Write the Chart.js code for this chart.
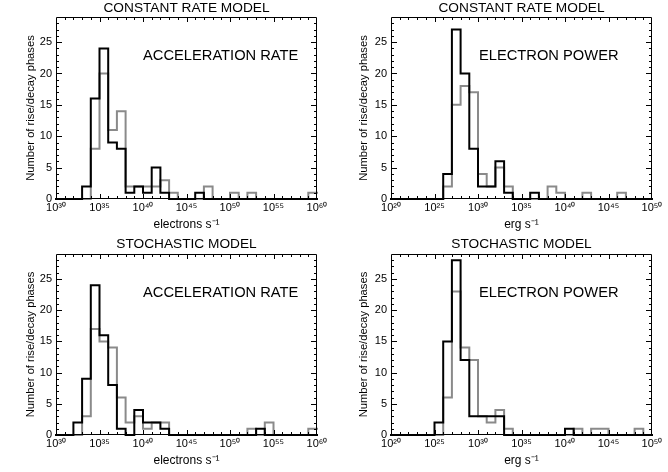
<!DOCTYPE html>
<html>
<head>
<meta charset="utf-8">
<script src="https://cdn.jsdelivr.net/npm/chart.js@4.4.1/dist/chart.umd.min.js"></script>
<style>
  html, body { margin: 0; padding: 0; background: #ffffff; }
  #wrap { position: relative; width: 668px; height: 472px; overflow: hidden; background: #fff; }
  canvas { position: absolute; }
</style>
</head>
<body>
<div id="wrap">
  <canvas id="c1" width="334" height="236" style="left:0px;top:0px;width:334px;height:236px"></canvas>
  <canvas id="c2" width="334" height="236" style="left:334px;top:0px;width:334px;height:236px"></canvas>
  <canvas id="c3" width="334" height="236" style="left:0px;top:236px;width:334px;height:236px"></canvas>
  <canvas id="c4" width="334" height="236" style="left:334px;top:236px;width:334px;height:236px"></canvas>
</div>
<script>
// ---------- DATA (histogram counts per one-decade bin; bin lower edge = log10 value) ----------
const accEdges   = [30,31,32,33,34,35,36,37,38,39,40,41,42,43,44,45,46,47,48,49,50,51,52,53,54,55,56,57,58,59];
const powerEdges = [20,21,22,23,24,25,26,27,28,29,30,31,32,33,34,35,36,37,38,39,40,41,42,43,44,45,46,47,48,49];

// Constant rate model – acceleration rate (electrons s^-1)
const constAccBlack = [0,0,0,2,16,24,9,8,1,2,1,5,1,0,0,0,1,0,0,0,0,0,0,0,0,0,0,0,0,0];
const constAccGray  = [0,0,0,0,8,20,11,14,2,2,2,2,3,1,0,0,0,2,0,0,1,0,1,0,0,0,0,0,0,1];
// Constant rate model – electron power (erg s^-1)
const constPowBlack = [0,0,0,0,0,0,4,27,20,8,2,2,6,1,0,0,1,0,0,0,0,0,0,0,0,0,0,0,0,0];
const constPowGray  = [0,0,0,0,0,0,2,15,18,17,4,2,5,2,0,0,0,0,2,1,0,0,1,0,0,0,1,0,0,0];
// Stochastic model – acceleration rate
const stochAccBlack = [0,0,2,9,24,16,8,1,0,4,2,2,1,0,0,0,0,0,0,0,0,0,0,1,0,0,0,0,0,0];
const stochAccGray  = [0,0,0,3,17,15,14,6,2,3,1,2,2,0,0,0,0,0,0,0,0,0,1,0,2,0,0,0,0,1];
// Stochastic model – electron power
const stochPowBlack = [0,0,0,0,0,2,15,28,12,3,3,3,3,0,0,0,0,0,0,0,1,0,0,0,0,0,0,0,0,0];
const stochPowGray  = [0,0,0,0,0,0,6,23,14,12,3,2,4,1,0,0,0,0,0,0,0,1,0,1,1,0,0,0,1,0];

const accTickExps   = [30,35,40,45,50,55,60];
const powerTickExps = [20,25,30,35,40,45,50];
const yTicks = [0,5,10,15,20,25];

const panelTitles = ['CONSTANT RATE MODEL','CONSTANT RATE MODEL','STOCHASTIC MODEL','STOCHASTIC MODEL'];
const innerLabels = ['ACCELERATION RATE','ELECTRON POWER','ACCELERATION RATE','ELECTRON POWER'];
const xTitles = ['electrons s⁻¹','erg s⁻¹','electrons s⁻¹','erg s⁻¹'];
const yTitle = 'Number of rise/decay phases';

// ---------- helpers ----------
const FONT = "'Liberation Sans', Arial, Helvetica, sans-serif";
const SUP = {'0':'⁰','1':'¹','2':'²','3':'³','4':'⁴','5':'⁵','6':'⁶','7':'⁷','8':'⁸','9':'⁹','-':'⁻'};
function powLabel(e){ return '10' + String(e).split('').map(c => SUP[c] || c).join(''); }

function stepPoints(edges, counts){
  const pts = edges.map((e, i) => ({x: e, y: counts[i]}));
  pts.push({x: edges[edges.length-1] + 1, y: counts[counts.length-1]});
  return pts;
}

// Box + inward ticks on all four sides, and the inner panel label
const framePlugin = {
  id: 'frame',
  afterDraw(chart, args, opts){
    const ctx = chart.ctx;
    const a = chart.chartArea;
    const xs = chart.scales.x, ys = chart.scales.y;
    ctx.save();
    ctx.strokeStyle = '#000';
    ctx.lineWidth = 1;
    ctx.beginPath();
    ctx.rect(a.left + 0.5, a.top + 0.5, a.right - a.left - 1, a.bottom - a.top - 1);
    ctx.stroke();
    ctx.beginPath();
    for (let v = xs.min + 1; v < xs.max; v++){
      const px = Math.round(xs.getPixelForValue(v)) + 0.5;
      const len = (v % 5 === 0) ? 5 : 3;
      ctx.moveTo(px, a.bottom); ctx.lineTo(px, a.bottom - len);
      ctx.moveTo(px, a.top); ctx.lineTo(px, a.top + len);
    }
    for (let v = ys.min + 1; v < ys.max; v++){
      const py = Math.round(ys.getPixelForValue(v)) + 0.5;
      const len = (v % 5 === 0) ? 6 : 3;
      ctx.moveTo(a.left, py); ctx.lineTo(a.left + len, py);
      ctx.moveTo(a.right, py); ctx.lineTo(a.right - len, py);
    }
    ctx.stroke();
    // inner label
    ctx.fillStyle = '#000';
    ctx.font = '14.7px ' + FONT;
    ctx.textAlign = 'left';
    ctx.textBaseline = 'middle';
    ctx.fillText(opts.text, a.left + opts.dx, a.top + opts.dy);
    ctx.restore();
  }
};

const panels = [
  {id:'c1', plotL:56, plotR:317, plotT:17, plotB:199, edges:accEdges,   black:constAccBlack, gray:constAccGray, tickExps:accTickExps,   yTitleX:31,   dx:87},
  {id:'c2', plotL:57, plotR:318, plotT:17, plotB:199, edges:powerEdges, black:constPowBlack, gray:constPowGray, tickExps:powerTickExps, yTitleX:29.5, dx:88},
  {id:'c3', plotL:56, plotR:317, plotT:18, plotB:199, edges:accEdges,   black:stochAccBlack, gray:stochAccGray, tickExps:accTickExps,   yTitleX:31,   dx:87},
  {id:'c4', plotL:57, plotR:318, plotT:18, plotB:199, edges:powerEdges, black:stochPowBlack, gray:stochPowGray, tickExps:powerTickExps, yTitleX:29.5, dx:88}
];

const CW = 334, CH = 236;

panels.forEach((p, i) => {
  const xMin = p.tickExps[0], xMax = p.tickExps[p.tickExps.length-1];
  const titleLH = 13, titleCenter = 8.5;
  const tPadTop = titleCenter - titleLH/2;
  const tPadBottom = p.plotT - tPadTop - titleLH;
  const yTitleLH = 11 * 1.2;
  new Chart(document.getElementById(p.id), {
    type: 'line',
    data: {
      datasets: [
        { label: 'black', data: stepPoints(p.edges, p.black), stepped: true, borderColor: '#000000',
          borderWidth: 2, pointRadius: 0, fill: false, clip: 4, borderJoinStyle: 'miter', borderCapStyle: 'square' },
        { label: 'gray', data: stepPoints(p.edges, p.gray), stepped: true, borderColor: '#8a8a8a',
          borderWidth: 2, pointRadius: 0, fill: false, clip: 4, borderJoinStyle: 'miter', borderCapStyle: 'square' }
      ]
    },
    options: {
      responsive: false,
      animation: false,
      events: [],
      layout: { padding: { left: 0, right: CW - p.plotR, top: 0, bottom: 0 } },
      plugins: {
        legend: { display: false },
        tooltip: { enabled: false },
        title: {
          display: true, text: panelTitles[i], fullSize: false, color: '#000',
          font: { family: FONT, size: 13.7, lineHeight: titleLH + 'px', weight: 'normal' },
          padding: { top: tPadTop, bottom: tPadBottom }
        },
        frame: { text: innerLabels[i], dx: p.dx, dy: 39 }
      },
      scales: {
        x: {
          type: 'linear', min: xMin, max: xMax,
          afterFit(scale){ scale.height = CH - p.plotB; },
          afterBuildTicks(scale){ scale.ticks = p.tickExps.map(v => ({value: v})); },
          grid: { display: false, drawTicks: false },
          border: { display: false },
          ticks: { callback: v => powLabel(v), color: '#000', font: { family: FONT, size: 11 }, padding: 2, maxRotation: 0, autoSkip: false },
          title: { display: true, text: xTitles[i], color: '#000', font: { family: FONT, size: 12 },
                   padding: { top: 0, bottom: 4 } }
        },
        y: {
          type: 'linear', min: 0, max: 29,
          afterFit(scale){ scale.width = p.plotL; },
          afterBuildTicks(scale){ scale.ticks = yTicks.map(v => ({value: v})); },
          grid: { display: false, drawTicks: false },
          border: { display: false },
          ticks: { color: '#000', font: { family: FONT, size: 11 }, padding: 4 },
          title: { display: true, text: yTitle, color: '#000', font: { family: FONT, size: 11.2 },
                   padding: { top: p.yTitleX - yTitleLH/2, bottom: 0 } }
        }
      }
    },
    plugins: [framePlugin]
  });
});
</script>
</body>
</html>
